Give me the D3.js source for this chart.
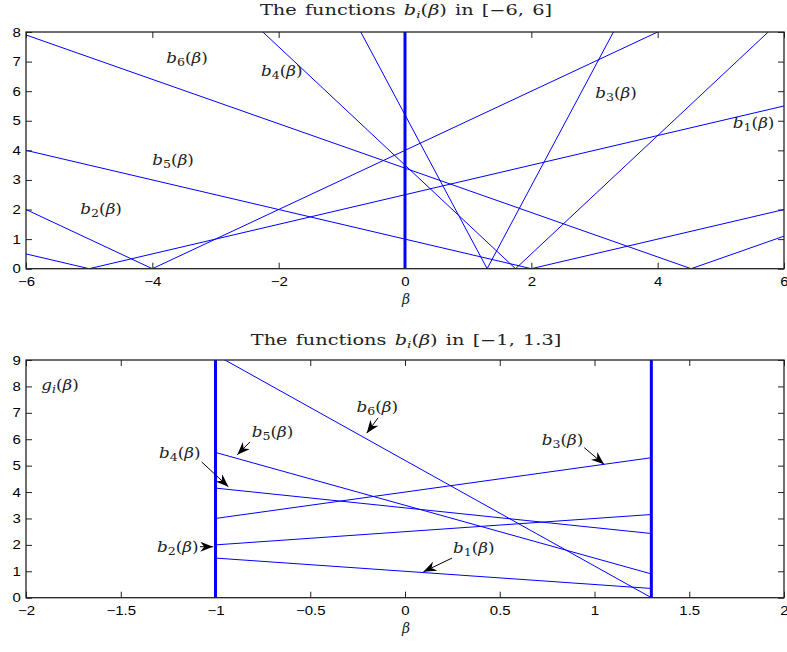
<!DOCTYPE html>
<html>
<head>
<meta charset="utf-8">
<script src="https://cdn.jsdelivr.net/npm/d3@7"></script>
<style>
  body { margin: 0; background: #fff; }
  .tick text { font-family: "Liberation Sans", Arial, sans-serif; font-size: 12.5px; fill: #000; }
  .math { font-family: "DejaVu Serif", serif; font-size: 14px; fill: #222; }
</style>
</head>
<body>
<div id="chart"></div>
<script>
// breakpoints of each |a*beta + c|
const topBeta = [
  [-6, 2, 6],
  [-6, -5, 6],
  [-6, -4, 6],
  [-6, 4.53, 6],
  [-6, 1.75, 6],
  [-6, 1.3, 6]
];
const topVals = [
  [4, 0, 2],
  [0.5, 0, 5.5],
  [2, 0, 10],
  [7.9, 0, 1.1],
  [15.5, 0, 8.5],
  [29.2, 0, 18.8]
];
const topBars = [0];
const topXTicks = [-6, -4, -2, 0, 2, 4, 6];
const topYTicks = [0, 1, 2, 3, 4, 5, 6, 7, 8];

// the same functions restricted to [-1, 1.3]
const zoomBeta = [-1, 1.3];
const zoomVals = [
  [1.5, 0.35],
  [2, 3.15],
  [3, 5.3],
  [4.15, 2.43],
  [5.5, 0.9],
  [9.2, 0]
];
const zoomBars = [-1, 1.3];
const zoomXTicks = [-2, -1.5, -1, -0.5, 0, 0.5, 1, 1.5, 2];
const zoomYTicks = [0, 1, 2, 3, 4, 5, 6, 7, 8, 9];

// labels: [sub, beta, value] (text start, baseline)
const topLabels = [
  ["6", -3.78, 6.95],
  ["4", -2.28, 6.51],
  ["5", -4.0, 3.5],
  ["2", -5.14, 1.86],
  ["3", 3.01, 5.77],
  ["1", 5.19, 4.75]
];
// arrows in the zoomed panel: [sub, textBeta, textVal, tailBeta, tailVal, tipBeta, tipVal]
const zoomArrows = [
  ["6", -0.256, 7.03, -0.142, 6.81, -0.202, 6.23],
  ["5", -0.809, 6.10, -0.818, 5.90, -0.885, 5.41],
  ["4", -1.298, 5.29, -1.073, 5.14, -0.932, 4.20],
  ["2", -1.309, 1.74, -1.082, 1.93, -1.012, 1.93],
  ["3", 0.721, 5.78, 0.946, 5.68, 1.050, 5.05],
  ["1", 0.253, 1.69, 0.248, 1.50, 0.097, 0.98]
];

const W = 787, H = 652;
const svg = d3.select("#chart").append("svg")
  .attr("width", W).attr("height", H);

const defs = svg.append("defs");
defs.append("marker")
  .attr("id", "head")
  .attr("viewBox", "0 0 13 10")
  .attr("refX", 13).attr("refY", 5)
  .attr("markerUnits", "userSpaceOnUse")
  .attr("markerWidth", 13).attr("markerHeight", 10)
  .attr("orient", "auto")
  .append("path")
  .attr("d", "M0,0 L13,5 L0,10 L4,5 Z")
  .attr("fill", "#000");

// the picture is a bit stretched sideways, so text is too
function mathLabel(g, x, y, sub, name) {
  const t = g.append("g").attr("transform", `translate(${x},${y}) scale(1.2,1)`)
    .append("text").attr("class", "math").attr("font-size", "15px");
  t.append("tspan").attr("font-style", "italic").text(name || "b");
  t.append("tspan").attr("font-size", "10.5px").attr("dy", 3)
    .attr("font-style", name ? "italic" : "normal").text(sub);
  t.append("tspan").attr("dy", -3).text("(");
  t.append("tspan").attr("font-style", "italic").text("β");
  t.append("tspan").text(")");
  return t;
}

function panel(top, bottom, xDom, yDom, xTicks, yTicks, id, range, titleY) {
  const left = 26, right = 784;
  const x = d3.scaleLinear().domain(xDom).range([left, right]);
  const y = d3.scaleLinear().domain(yDom).range([bottom, top]);
  const g = svg.append("g");

  defs.append("clipPath").attr("id", id)
    .append("rect").attr("x", left).attr("y", top)
    .attr("width", right - left).attr("height", bottom - top);

  // axes with inward ticks on all sides
  const fmt = d => d3.format("")(d);
  g.append("g").attr("transform", `translate(0,${bottom})`)
    .call(d3.axisBottom(x).tickValues(xTicks).tickSizeInner(-6).tickSizeOuter(0).tickPadding(8).tickFormat(fmt));
  g.append("g").attr("transform", `translate(0,${top})`)
    .call(d3.axisTop(x).tickValues(xTicks).tickSizeInner(-6).tickSizeOuter(0).tickFormat(""));
  g.append("g").attr("transform", `translate(${left},0)`)
    .call(d3.axisLeft(y).tickValues(yTicks).tickSizeInner(-6).tickSizeOuter(0).tickPadding(4.3).tickFormat(fmt));
  g.append("g").attr("transform", `translate(${right},0)`)
    .call(d3.axisRight(y).tickValues(yTicks).tickSizeInner(-6).tickSizeOuter(0).tickFormat(""));
  g.selectAll(".domain").remove();
  g.selectAll(".tick line").attr("stroke", "#222");
  g.selectAll(".tick text").attr("transform", "scale(1.2,1)");

  const plot = g.append("g").attr("clip-path", `url(#${id})`);
  g.append("rect").attr("x", left).attr("y", top)
    .attr("width", right - left).attr("height", bottom - top)
    .attr("fill", "none").attr("stroke", "#222").attr("stroke-width", 1.3);

  g.append("text").attr("class", "math")
    .attr("x", (left + right) / 2 + 1).attr("y", bottom + 35)
    .attr("text-anchor", "middle").attr("font-style", "italic")
    .attr("font-size", "16px").attr("fill", "#444").text("β");

  const title = g.append("g")
    .attr("transform", `translate(${(left + right) / 2 + 1},${titleY}) scale(1.38,1)`)
    .append("text").attr("class", "math")
    .attr("text-anchor", "middle").attr("font-size", "14px")
    .attr("word-spacing", "1.5px");
  title.append("tspan").text("The functions ");
  title.append("tspan").attr("font-style", "italic").text("b");
  title.append("tspan").attr("font-style", "italic").attr("font-size", "10px").attr("dy", 3).text("i");
  title.append("tspan").attr("dy", -3).text("(");
  title.append("tspan").attr("font-style", "italic").text("β");
  title.append("tspan").text(") in " + range);

  return { x, y, g, plot };
}

// top panel
const P1 = panel(32, 268.7, [-6, 6], [0, 8], topXTicks, topYTicks, "clipTop", "[−6, 6]", 15);
const line1 = d3.line().x(d => P1.x(d[0])).y(d => P1.y(d[1]));
P1.plot.selectAll("path.f").data(topBeta).join("path")
  .attr("class", "f")
  .attr("d", (b, i) => line1(b.map((v, j) => [v, topVals[i][j]])))
  .attr("fill", "none").attr("stroke", "#0000ff").attr("stroke-width", 1);
P1.plot.selectAll("line.bar").data(topBars).join("line")
  .attr("class", "bar")
  .attr("x1", d => P1.x(d)).attr("x2", d => P1.x(d))
  .attr("y1", P1.y(0)).attr("y2", P1.y(8))
  .attr("stroke", "#0000ff").attr("stroke-width", 3);
topLabels.forEach(l => mathLabel(P1.g, P1.x(l[1]), P1.y(l[2]), l[0]));

// bottom panel
const P2 = panel(360, 597.7, [-2, 2], [0, 9], zoomXTicks, zoomYTicks, "clipZoom", "[−1, 1.3]", 345);
const line2 = d3.line().x(d => P2.x(d[0])).y(d => P2.y(d[1]));
P2.plot.selectAll("path.f").data(zoomVals).join("path")
  .attr("class", "f")
  .attr("d", v => line2(zoomBeta.map((b, j) => [b, v[j]])))
  .attr("fill", "none").attr("stroke", "#0000ff").attr("stroke-width", 1);
P2.plot.selectAll("line.bar").data(zoomBars).join("line")
  .attr("class", "bar")
  .attr("x1", d => P2.x(d)).attr("x2", d => P2.x(d))
  .attr("y1", P2.y(0)).attr("y2", P2.y(9))
  .attr("stroke", "#0000ff").attr("stroke-width", 3);

mathLabel(P2.g, P2.x(-1.92), P2.y(7.87), "i", "g");
zoomArrows.forEach(a => {
  mathLabel(P2.g, P2.x(a[1]), P2.y(a[2]), a[0]);
  P2.g.append("line")
    .attr("x1", P2.x(a[3])).attr("y1", P2.y(a[4]))
    .attr("x2", P2.x(a[5])).attr("y2", P2.y(a[6]))
    .attr("stroke", "#000").attr("stroke-width", 1)
    .attr("marker-end", "url(#head)");
});
</script>
</body>
</html>
